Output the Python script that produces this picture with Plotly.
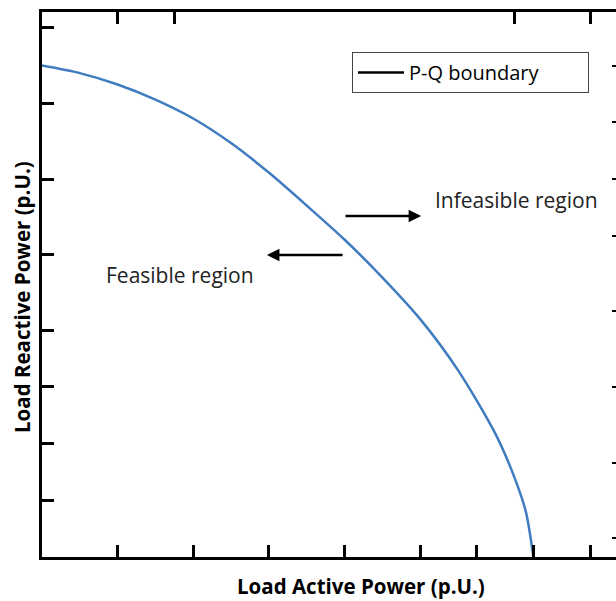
import plotly.graph_objects as go

# P-Q boundary of the load (per-unit values)
p_active = [0.0, 0.1, 0.2, 0.3, 0.4, 0.5, 0.6, 0.7, 0.8, 0.9, 1.0, 1.1, 1.2, 1.25, 1.28, 1.3]
q_reactive = [1.30, 1.280, 1.250, 1.210, 1.160, 1.095, 1.017, 0.93, 0.84, 0.74, 0.63, 0.495, 0.325, 0.21, 0.12, 0.0]

# tick positions on the four sides of the frame
x_bottom_ticks = [0.2, 0.4, 0.6, 0.8, 1.0, 1.15, 1.3, 1.45]
x_top_ticks = [0.2, 0.35, 1.25, 1.45]
y_left_ticks = [0.15, 0.30, 0.45, 0.60, 0.80, 1.0, 1.2, 1.4]
y_right_ticks = [0.05, 0.25, 0.45, 0.65, 0.85, 1.0, 1.15, 1.3]

PX_PER_UNIT = 378
LEFT, TOP, BOTTOM = 42, 12, 557
PLOT_W, PLOT_H = 616 - LEFT, BOTTOM - TOP
X_RANGE = [0, PLOT_W / PX_PER_UNIT]
Y_RANGE = [0, PLOT_H / PX_PER_UNIT]

FONT = "Open Sans"
BLUE = "#3f7cc0"


def paper_x(px):
    return (px - LEFT) / PLOT_W


def paper_y(py):
    return (BOTTOM - py) / PLOT_H


fig = go.Figure()

fig.add_trace(go.Scatter(
    x=p_active, y=q_reactive, mode="lines", line=dict(color=BLUE, width=2.5, shape="spline", smoothing=0.8),
    showlegend=False, hoverinfo="skip",
))
# legend entry
fig.add_trace(go.Scatter(
    x=[None], y=[None], mode="lines", line=dict(color="black", width=2.5),
    name="P-Q boundary", showlegend=True,
))
# empty trace to bring up the top and right axes
fig.add_trace(go.Scatter(x=[None], y=[None], xaxis="x2", yaxis="y2", showlegend=False))

axis_common = dict(
    showgrid=False, zeroline=False, showticklabels=False,
    ticks="inside", tickcolor="black", tickmode="array",
)

fig.update_layout(
    width=616, height=601,
    margin=dict(l=LEFT, r=0, t=TOP, b=601 - BOTTOM),
    paper_bgcolor="white", plot_bgcolor="white",
    xaxis=dict(
        **axis_common, range=X_RANGE, tickvals=x_bottom_ticks, ticklen=12, tickwidth=2.5,
        showline=True, linecolor="black", linewidth=3,
    ),
    xaxis2=dict(
        **axis_common, range=X_RANGE, tickvals=x_top_ticks, ticklen=12, tickwidth=2.5,
        showline=True, linecolor="black", linewidth=3, overlaying="x", side="top", anchor="y",
    ),
    yaxis=dict(
        **axis_common, range=Y_RANGE, tickvals=y_left_ticks, ticklen=12, tickwidth=2.5,
        showline=True, linecolor="black", linewidth=3,
    ),
    yaxis2=dict(
        **axis_common, range=Y_RANGE, tickvals=y_right_ticks, ticklen=4, tickwidth=2,
        showline=False, overlaying="y", side="right", anchor="x",
    ),
    legend=dict(
        x=paper_x(352), y=paper_y(52), xanchor="left", yanchor="top",
        orientation="h", entrywidth=174, itemwidth=46,
        bordercolor="#444", borderwidth=1, bgcolor="white",
        font=dict(family=FONT, size=20, color="black"),
    ),
    annotations=[
        # axis titles
        dict(x=paper_x(361), y=paper_y(586), xref="paper", yref="paper", showarrow=False,
             xanchor="center", yanchor="middle",
             text="<b>Load Active Power (p.U.)</b>", font=dict(family=FONT, size=20.5, color="black")),
        dict(x=paper_x(22), y=paper_y(297), xref="paper", yref="paper", showarrow=False,
             xanchor="center", yanchor="middle", textangle=-90,
             text="<b>Load Reactive Power (p.U.)</b>", font=dict(family=FONT, size=20.5, color="black")),
        # direction arrows
        dict(x=1.003, y=0.902, ax=0.799, ay=0.902, xref="x", yref="y", axref="x", ayref="y",
             text="", showarrow=True, arrowhead=2, arrowsize=1, arrowwidth=2.5, arrowcolor="black"),
        dict(x=0.595, y=0.799, ax=0.799, ay=0.799, xref="x", yref="y", axref="x", ayref="y",
             text="", showarrow=True, arrowhead=2, arrowsize=1, arrowwidth=2.5, arrowcolor="black"),
        # region labels
        dict(x=(433 - LEFT) / PX_PER_UNIT, y=(BOTTOM - 200) / PX_PER_UNIT, xref="x", yref="y",
             xanchor="left", yanchor="middle",
             text="Infeasible region", showarrow=False, font=dict(family=FONT, size=21, color="#222")),
        dict(x=(104 - LEFT) / PX_PER_UNIT, y=(BOTTOM - 275) / PX_PER_UNIT, xref="x", yref="y",
             xanchor="left", yanchor="middle",
             text="Feasible region", showarrow=False, font=dict(family=FONT, size=21, color="#222")),
    ],
)

fig.write_html("out.html")
